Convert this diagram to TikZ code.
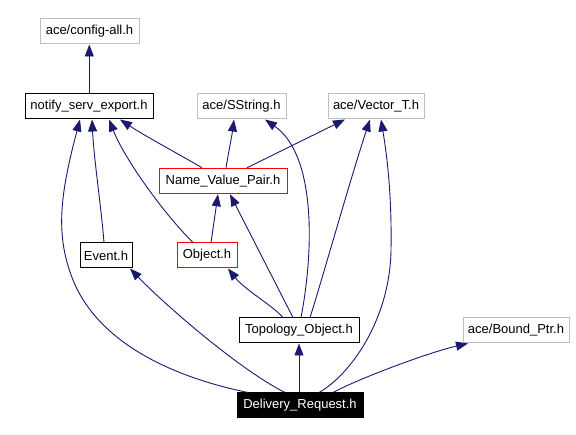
\documentclass[tikz,border=0pt]{standalone}
\usepackage{fontspec}
\setmainfont{Liberation Sans}
\usetikzlibrary{arrows.meta}
\definecolor{edgeblue}{HTML}{191970}
\definecolor{boxgray}{HTML}{BFBFBF}
\definecolor{boxred}{HTML}{FF0000}
\tikzset{
  filebox/.style={draw=black, line width=1pt, inner sep=0pt, minimum height=25pt,
    font=\fontsize{13}{14}\selectfont, text=black, fill=white},
  extbox/.style={filebox, draw=boxgray},
  redbox/.style={filebox, draw=boxred},
  mainbox/.style={filebox, fill=black, text=white},
  dep/.style={draw=edgeblue, line width=0.9pt,
    -{Triangle[length=12pt,width=9pt]}, color=edgeblue},
}
\begin{document}
\begin{tikzpicture}[x=1pt,y=-1pt]
\useasboundingbox (0,0) rectangle (576,435);
\node[extbox, minimum width=99pt] (cfg) at (89.5,31.5) {ace/config-all.h};
\node[filebox, minimum width=128pt] (nse) at (89,106.5) {notify\_serv\_export.h};
\node[extbox, minimum width=89pt] (sstr) at (241.5,106.5) {ace/SString.h};
\node[extbox, minimum width=96pt] (vec) at (376,106.5) {ace/Vector\_T.h};
\node[redbox, minimum width=128pt, minimum height=25.5pt, draw=boxred] (nvp) at (223,181) {Name\_Value\_Pair.h};
\node[filebox, minimum width=52pt] (evt) at (106,255.5) {Event.h};
\node[redbox, minimum width=60pt] (obj) at (207,255.5) {Object.h};
\node[filebox, minimum width=120pt] (topo) at (299,330.5) {Topology\_Object.h};
\node[extbox, minimum width=106pt] (bptr) at (516,330.5) {ace/Bound\_Ptr.h};
\node[mainbox, minimum width=126pt] (del) at (300,405.5) {Delivery\_Request.h};

% notify_serv_export.h
\draw[dep] ([xshift=0.3pt]nse.north) -- ([xshift=-0.2pt]cfg.south);
% Name_Value_Pair.h
\draw[dep] ([xshift=-21pt]nvp.north) .. controls (175,152) and (145,136) .. ([xshift=31pt]nse.south);
\draw[dep] ([xshift=3pt]nvp.north) .. controls (229,150) and (232,135) .. ([xshift=-7.5pt]sstr.south);
\draw[dep] ([xshift=24pt]nvp.north) -- ([xshift=-31pt]vec.south);
% Event.h
\draw[dep] ([xshift=-2pt]evt.north) .. controls (101,205) and (94,160) .. ([xshift=3pt]nse.south);
% Object.h
\draw[dep] ([xshift=-14pt]obj.north) .. controls (165,215) and (125,160) .. ([xshift=20pt]nse.south);
\draw[dep] ([xshift=4pt]obj.north) -- ([xshift=-5pt]nvp.south);
% Topology_Object.h
\draw[dep] ([xshift=-16pt]topo.north) .. controls (272,305) and (245,290) .. ([xshift=21pt]obj.south);
\draw[dep] ([xshift=-6pt]topo.north) -- ([xshift=7pt]nvp.south);
\draw[dep] ([xshift=2pt]topo.north) .. controls (314,250) and (316,155) .. ([xshift=23.5pt]sstr.south);
\draw[dep] ([xshift=11pt]topo.north) .. controls (322,280) and (350,180) .. ([xshift=-6pt]vec.south);
% Delivery_Request.h
\coordinate (dl1) at (73,280);
\draw[dep] ([xshift=-52pt]del.north) .. controls (158,374) and (95,335) .. (dl1)
  .. controls (55,235) and (60,195) .. ([xshift=-9pt]nse.south);
\draw[dep] ([xshift=-15pt]del.north) .. controls (240,370) and (165,305) .. ([xshift=24pt]evt.south);
\draw[dep] ([xshift=-1pt]del.north) -- (topo.south);
\coordinate (dv1) at (391,250);
\draw[dep] ([xshift=19pt]del.north) .. controls (350,375) and (390,320) .. (dv1)
  .. controls (392,190) and (386,150) .. ([xshift=5pt]vec.south);
\draw[dep] ([xshift=33pt]del.north) .. controls (360,378) and (430,352) .. ([xshift=-48pt]bptr.south);
\end{tikzpicture}
\end{document}
